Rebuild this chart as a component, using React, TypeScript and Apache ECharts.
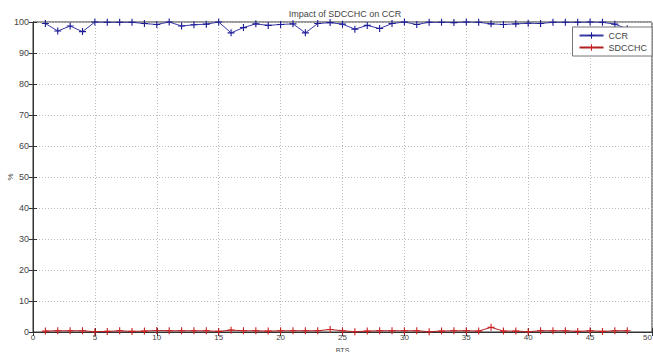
import React, { useEffect, useRef } from "react";
import * as echarts from "echarts";

const btsCCR = [1,2,3,4,5,6,7,8,9,10,11,12,13,14,15,16,17,18,19,20,21,22,23,24,25,26,27,28,29,30,31,32,33,34,35,36,37,38,39,40,41,42,43,44,45,46,47,48];
const ccr = [99.5,97.1,98.7,96.9,100,99.9,99.9,99.9,99.5,99.2,100,98.7,99.1,99.3,100,96.5,98.2,99.4,98.9,99.2,99.4,96.5,99.5,99.8,99.3,97.7,98.9,97.9,99.5,100,99.2,99.9,99.9,99.8,100,99.9,99.4,99.2,99.4,99.6,99.5,99.9,99.9,99.9,100,99.9,99.3,97.8];
const sdcchc = [0.3,0.4,0.4,0.4,0.1,0.2,0.4,0.2,0.3,0.5,0.4,0.4,0.4,0.4,0.2,0.6,0.4,0.4,0.3,0.4,0.4,0.4,0.4,0.8,0.4,0.1,0.3,0.4,0.4,0.4,0.4,0.1,0.3,0.4,0.4,0.3,1.5,0.3,0.3,0.1,0.4,0.4,0.4,0.2,0.4,0.2,0.4,0.4];
const xTicks = [0,5,10,15,20,25,30,35,40,45,50];
const yTicks = [0,10,20,30,40,50,60,70,80,90,100];

const PLUS = "path://M4.2,0H5.8V4.2H10V5.8H5.8V10H4.2V5.8H0V4.2H4.2Z";
const FONT = "Liberation Sans";

export default function App() {
  const ref = useRef<HTMLDivElement>(null);
  useEffect(() => {
    if (!ref.current) return;
    const chart = echarts.init(ref.current, null, { renderer: "svg" });
    const axisText = { color: "#444", fontFamily: FONT, fontSize: 9 };
    chart.setOption({
      animation: false,
      backgroundColor: "#fff",
      textStyle: { fontFamily: FONT },
      title: {
        text: "Impact of SDCCHC on CCR",
        left: 340,
        textAlign: "center",
        top: 4,
        textStyle: { color: "#444", fontSize: 9, fontWeight: "normal", fontFamily: FONT },
      },
      legend: {
        orient: "vertical",
        right: 1,
        top: 27,
        itemWidth: 24,
        itemHeight: 8,
        itemGap: 3,
        padding: [4, 5, 4, 6],
        backgroundColor: "#fff",
        borderColor: "#777",
        borderWidth: 1,
        borderRadius: 0,
        textStyle: { color: "#444", fontSize: 9, fontFamily: FONT },
        data: ["CCR", "SDCCHC"],
      },
      grid: { left: 33, right: 1, top: 22, bottom: 20, containLabel: false, outerBoundsMode: "none", show: true, borderColor: "#333", borderWidth: 1, backgroundColor: "transparent" },
      xAxis: [
        {
          type: "value",
          min: 0,
          max: 50,
          interval: 5,
          name: "BTS",
          nameLocation: "middle",
          nameGap: 14,
          nameMoveOverlap: false,
          nameTextStyle: { ...axisText, fontSize: 7, lineHeight: 8 },
          axisLine: { show: true, lineStyle: { color: "#333" } },
          axisTick: { show: true, inside: true, length: 4, lineStyle: { color: "#333" } },
          axisLabel: { ...axisText, fontSize: 8, lineHeight: 8, margin: 1, alignMaxLabel: "right", formatter: (v: number) => (xTicks.includes(v) ? String(v) : "") },
          splitLine: { show: true, lineStyle: { color: "#bbb", type: [1, 2], width: 1 } },
        },
        {
          type: "value",
          position: "top",
          min: 0,
          max: 50,
          interval: 5,
          axisLine: { show: true, lineStyle: { color: "#333" } },
          axisTick: { show: true, inside: true, length: 4, lineStyle: { color: "#333" } },
          axisLabel: { show: false },
          splitLine: { show: false },
        },
      ],
      yAxis: [
        {
          type: "value",
          min: 0,
          max: 100,
          interval: 10,
          name: "%",
          nameLocation: "middle",
          nameGap: 19,
          nameMoveOverlap: false,
          nameRotate: 90,
          nameTextStyle: { ...axisText, fontSize: 8 },
          axisLine: { show: true, lineStyle: { color: "#333" } },
          axisTick: { show: true, inside: true, length: 4, lineStyle: { color: "#333" } },
          axisLabel: { ...axisText, margin: 4, formatter: (v: number) => (yTicks.includes(v) ? String(v) : "") },
          splitLine: { show: true, lineStyle: { color: "#bbb", type: [1, 2], width: 1 } },
        },
        {
          type: "value",
          position: "right",
          min: 0,
          max: 100,
          interval: 10,
          axisLine: { show: true, lineStyle: { color: "#333" } },
          axisTick: { show: true, inside: true, length: 4, lineStyle: { color: "#333" } },
          axisLabel: { show: false },
          splitLine: { show: false },
        },
      ],
      series: [
        {
          name: "CCR",
          type: "line",
          data: btsCCR.map((x, i) => [x, ccr[i]]),
          symbol: PLUS,
          symbolSize: 7,
          showAllSymbol: true,
          lineStyle: { color: "#3a3aa8", width: 1 },
          itemStyle: { color: "#1c1c96" },
          z: 3,
        },
        {
          name: "SDCCHC",
          type: "line",
          data: btsCCR.map((x, i) => [x, sdcchc[i]]),
          symbol: PLUS,
          symbolSize: 7,
          showAllSymbol: true,
          lineStyle: { color: "#b02222", width: 1 },
          itemStyle: { color: "#cc2020" },
          z: 3,
        },
      ],
    });
    return () => chart.dispose();
  }, []);
  return <div ref={ref} style={{ width: 653, height: 352, position: "absolute", left: 0, top: 0 }} />;
}
